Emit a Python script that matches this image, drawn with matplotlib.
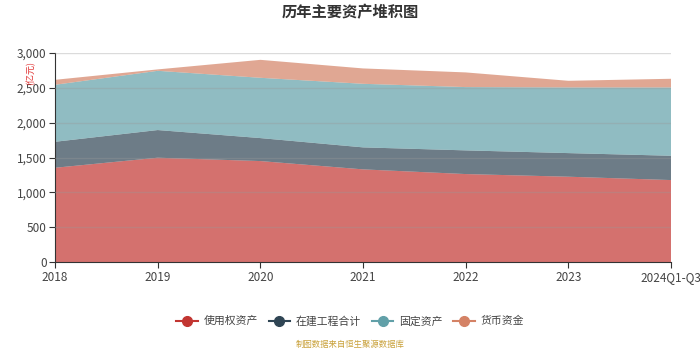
import numpy as np
import matplotlib
matplotlib.use("Agg")
import matplotlib.pyplot as plt
from matplotlib.lines import Line2D
from matplotlib.ticker import FuncFormatter

plt.rcParams['font.family'] = ['Noto Sans CJK SC', 'DejaVu Sans']

# 数据 (亿元)
years = ['2018', '2019', '2020', '2021', '2022', '2023', '2024Q1-Q3']
shiyongquan = [1353, 1497, 1449, 1330, 1263, 1225, 1177]
zaijian = [372, 396, 329, 315, 339, 338, 348]
guding = [816, 848, 863, 910, 906, 940, 978]
huobi = [71, 20, 257, 220, 210, 95, 124]

names = ['使用权资产', '在建工程合计', '固定资产', '货币资金']
colors = ['#c23531', '#2f4554', '#61a0a8', '#d48265']

fig = plt.figure(figsize=(7, 3.5), dpi=100)
ax = fig.add_axes([0.0786, 0.2506, 0.88, 0.5988])

x = np.arange(len(years))
series = [shiyongquan, zaijian, guding, huobi]
ax.stackplot(x, *series, colors=colors, alpha=0.7, linewidth=0, zorder=2)

ax.set_xlim(0, len(years) - 1)
ax.set_ylim(0, 3000)
ax.set_yticks(np.arange(0, 3001, 500))
ax.yaxis.set_major_formatter(FuncFormatter(lambda v, p: f'{int(v):,}'))
ax.set_xticks(x)
ax.set_xticklabels(years)

# 网格线
for v in np.arange(500, 3001, 500):
    ax.axhline(v, color='#999999', alpha=0.35, linewidth=1, zorder=3)

for s in ['top', 'right']:
    ax.spines[s].set_visible(False)
for s in ['left', 'bottom']:
    ax.spines[s].set_color('#333333')
ax.tick_params(axis='both', colors='#333333', labelcolor='#444444', labelsize=8.5,
               length=4, pad=2)

ax.text(-0.04, 0.962, '(亿元)', transform=ax.transAxes, rotation=90, color='#e03030',
        fontsize=6.5, ha='center', va='top')

fig.text(0.5, 0.965, '历年主要资产堆积图', ha='center', va='center',
         fontsize=11, fontweight='bold', color='#333333')

handles = [Line2D([0], [0], color=c, marker='o', markersize=7, linewidth=1.5)
           for c in colors]
fig.legend(handles, names, loc='center', bbox_to_anchor=(0.5, 0.083), ncol=4,
           frameon=False, fontsize=7.8, handlelength=2.0, columnspacing=1.0,
           handletextpad=0.5, labelcolor='#444444')

fig.text(0.5, 0.015, '制图数据来自恒生聚源数据库', ha='center', va='center',
         fontsize=6, color='#c9a13a')

fig.savefig('out.png', dpi=100)
